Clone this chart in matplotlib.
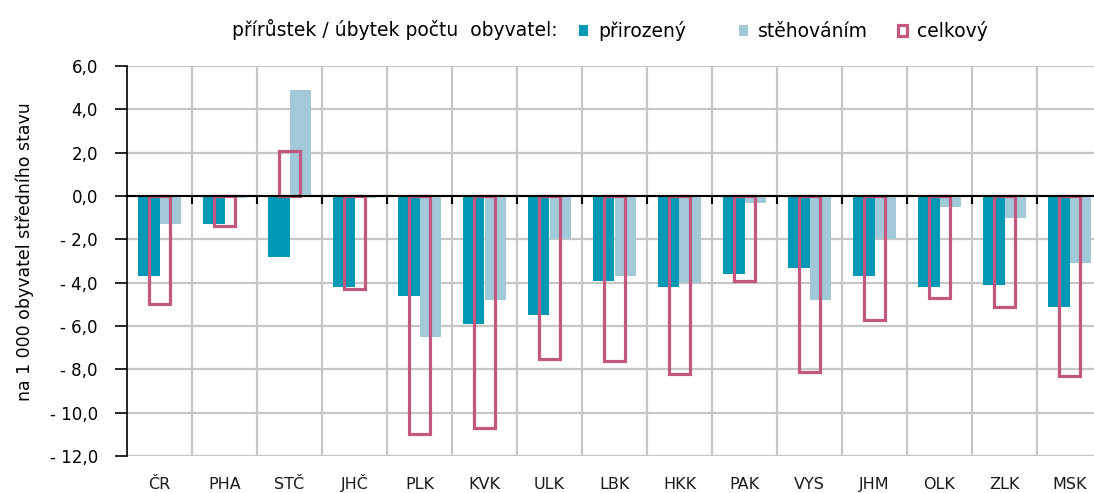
import matplotlib
matplotlib.use("Agg")
import matplotlib.pyplot as plt
from matplotlib.ticker import FuncFormatter
import numpy as np

# kraje
kraje = ["ČR", "PHA", "STČ", "JHČ", "PLK", "KVK", "ULK", "LBK",
         "HKK", "PAK", "VYS", "JHM", "OLK", "ZLK", "MSK"]

# přírůstek / úbytek na 1 000 obyvatel středního stavu
prirozeny = [-3.7, -1.3, -2.8, -4.2, -4.6, -5.9, -5.5, -3.9,
             -4.2, -3.6, -3.3, -3.7, -4.2, -4.1, -5.1]
stehovanim = [-1.3, -0.1, 4.9, -0.1, -6.5, -4.8, -2.0, -3.7,
              -4.0, -0.3, -4.8, -2.0, -0.5, -1.0, -3.1]
celkovy = [-5.0, -1.4, 2.1, -4.3, -11.0, -10.7, -7.5, -7.6,
           -8.2, -3.9, -8.1, -5.7, -4.7, -5.1, -8.3]

barva_prir = "#0099B5"
barva_steh = "#A2C9D8"
barva_celk = "#C2587F"

W, H = 1094, 493
fig = plt.figure(figsize=(W / 100, H / 100), dpi=100)
ax = fig.add_axes([127 / W, 1 - 456 / H, 975 / W, 390 / H])

x = np.arange(len(kraje))
sirka = 1 / 3

b1 = ax.bar(x - sirka / 2, prirozeny, sirka, color=barva_prir, zorder=2, label="přirozený")
b2 = ax.bar(x + sirka / 2, stehovanim, sirka, color=barva_steh, zorder=2, label="stěhováním")
b3 = ax.bar(x, celkovy, sirka * 0.93, facecolor="none", edgecolor=barva_celk,
            linewidth=2.3, zorder=3, label="celkový")

ax.set_xlim(-0.5, len(kraje) - 0.5)
ax.set_ylim(-12, 6)
ax.set_yticks(np.arange(-12, 6.1, 2))


def fmt(v, pos):
    s = f"{abs(v):.1f}".replace(".", ",")
    return "- " + s if v < -1e-9 else s


ax.yaxis.set_major_formatter(FuncFormatter(fmt))
ax.tick_params(axis="y", labelsize=12, length=9, width=1.2, pad=12, color="black")

# hranice kategorií - mřížka a značky na nulové ose
ax.set_xticks(x[:-1] + 0.5)
ax.tick_params(axis="x", labelbottom=False, length=6, width=1.5, direction="out", color="black")
ax.grid(True, color="#C6C6C6", linewidth=1.6, zorder=0)
ax.set_axisbelow(True)

ax.spines["bottom"].set_position(("data", 0))
ax.spines["bottom"].set_linewidth(1.5)
ax.spines["bottom"].set_zorder(4)
ax.spines["left"].set_linewidth(1.2)
ax.spines["top"].set_visible(False)
ax.spines["right"].set_visible(False)

# popisky krajů dole (zarovnané na účaří)
sec = ax.secondary_xaxis(-0.0)
sec.set_xticks(x, kraje)
sec.tick_params(length=0, pad=24, labelsize=11.5, colors="#1A1A1A")
sec.spines["bottom"].set_visible(False)
for lab in sec.get_xticklabels():
    lab.set_va("baseline")

fig.text(25 / W, 1 - 252 / H, "na 1 000 obyvatel středního stavu", rotation=90,
         ha="center", va="center", fontsize=12.5)

# legenda - každá položka zvlášť, zarovnáno na spodní okraj
fig.text(232 / W, 1 - 36 / H, "přírůstek / úbytek počtu  obyvatel:", ha="left",
         va="baseline", fontsize=13.5)
for h, xpos in [(b1, 579), (b2, 739), (b3, 898)]:
    fig.legend(handles=[h], loc="lower left", bbox_to_anchor=(xpos / W, 1 - 41 / H),
               frameon=False, fontsize=13.5, handlelength=0.5, handleheight=0.5,
               handletextpad=0.5, borderaxespad=0, borderpad=0)

fig.savefig("out.png", dpi=100)
